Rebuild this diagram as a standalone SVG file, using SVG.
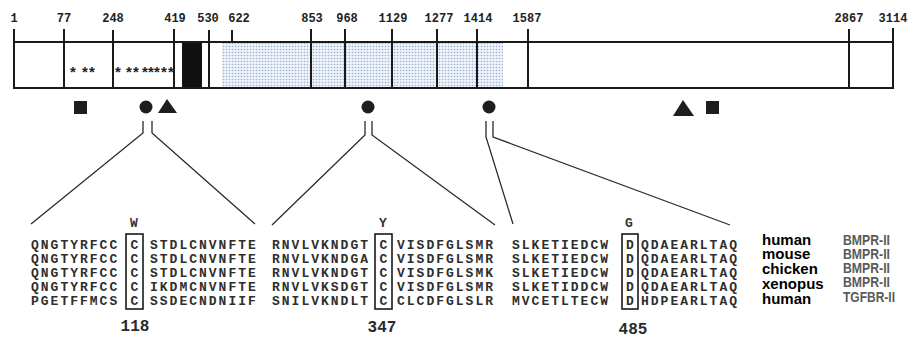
<svg xmlns="http://www.w3.org/2000/svg" width="909" height="339" viewBox="0 0 909 339">
  <defs>
    <pattern id="dots" width="3" height="3" patternUnits="userSpaceOnUse">
      <rect width="3" height="3" fill="#eef2f9"/>
      <circle cx="1.5" cy="1.5" r="0.8" fill="#9cb0d4"/>
    </pattern>
    <style>
      .bar { fill: none; stroke: #1a1a1a; stroke-width: 2; }
      .tick { stroke: #1a1a1a; stroke-width: 2; }
      .pos { font-family: "Liberation Mono", monospace; font-weight: bold; font-size: 12px; fill: #222; text-anchor: middle; }
      .star { font-family: "Liberation Sans", sans-serif; font-weight: bold; font-size: 15px; fill: #222; text-anchor: middle; }
      .mark { fill: #1e1e1e; }
      .conn { fill: none; stroke: #2a2a2a; stroke-width: 1.3; }
      .seq { font-family: "Liberation Mono", monospace; font-weight: bold; font-size: 13px; letter-spacing: 2px; fill: #2e2e2e; }
      .res { font-family: "Liberation Mono", monospace; font-weight: bold; font-size: 13px; fill: #2e2e2e; text-anchor: middle; }
      .sub { font-family: "Liberation Mono", monospace; font-weight: bold; font-size: 13px; fill: #333; text-anchor: middle; }
      .num { font-family: "Liberation Mono", monospace; font-weight: bold; font-size: 16px; fill: #2a2a2a; text-anchor: middle; }
      .box { fill: none; stroke: #1a1a1a; stroke-width: 1.6; }
      .sp { font-family: "Liberation Sans", Arial, sans-serif; font-weight: bold; font-size: 15px; fill: #000; }
      .gene { font-family: "Liberation Sans", Arial, sans-serif; font-weight: bold; font-size: 14px; fill: #5a5a5a; }
    </style>
  </defs>

  <!-- protein bar with domains -->
  <g id="bar">
    <rect x="222" y="43" width="281" height="45" fill="url(#dots)"/>
    <rect x="182" y="43" width="20" height="45" fill="#111"/>
    <rect class="bar" x="14" y="42" width="879" height="46"/>
    <line class="tick" x1="14" y1="29" x2="14" y2="88"/>
    <line class="tick" x1="64" y1="29" x2="64" y2="88"/>
    <line class="tick" x1="113" y1="30" x2="113" y2="88"/>
    <line class="tick" x1="174" y1="29" x2="174" y2="88"/>
    <line class="tick" x1="209" y1="30" x2="209" y2="88"/>
    <line class="tick" x1="232" y1="30" x2="232" y2="42"/>
    <line class="tick" x1="311" y1="29" x2="311" y2="88"/>
    <line class="tick" x1="345" y1="29" x2="345" y2="88"/>
    <line class="tick" x1="392" y1="29" x2="392" y2="88"/>
    <line class="tick" x1="437" y1="29" x2="437" y2="88"/>
    <line class="tick" x1="477" y1="29" x2="477" y2="88"/>
    <line class="tick" x1="528" y1="29" x2="528" y2="88"/>
    <line class="tick" x1="849" y1="29" x2="849" y2="88"/>
    <line class="tick" x1="893" y1="28" x2="893" y2="88"/>
  </g>

  <!-- residue positions -->
  <g id="positions">
    <text class="pos" x="14" y="22">1</text>
    <text class="pos" x="64" y="22">77</text>
    <text class="pos" x="113" y="22">248</text>
    <text class="pos" x="175" y="22">419</text>
    <text class="pos" x="208" y="22">530</text>
    <text class="pos" x="239" y="22">622</text>
    <text class="pos" x="312" y="22">853</text>
    <text class="pos" x="347" y="22">968</text>
    <text class="pos" x="393" y="22">1129</text>
    <text class="pos" x="439" y="22">1277</text>
    <text class="pos" x="478" y="22">1414</text>
    <text class="pos" x="527" y="22">1587</text>
    <text class="pos" x="849" y="22">2867</text>
    <text class="pos" x="893" y="22">3114</text>
  </g>

  <!-- cysteine stars -->
  <g id="stars">
    <text class="star" x="73" y="77">*</text>
    <text class="star" x="85" y="77">*</text>
    <text class="star" x="92" y="77">*</text>
    <text class="star" x="118" y="77">*</text>
    <text class="star" x="129" y="77">*</text>
    <text class="star" x="136" y="77">*</text>
    <text class="star" x="145" y="77">*</text>
    <text class="star" x="151" y="77">*</text>
    <text class="star" x="157" y="77">*</text>
    <text class="star" x="164" y="77">*</text>
    <text class="star" x="171" y="77">*</text>
  </g>

  <!-- mutation markers -->
  <g id="markers">
    <rect class="mark" x="74" y="101" width="13" height="13"/>
    <circle class="mark" cx="146" cy="107" r="6.5"/>
    <polygon class="mark" points="158,113 167,99 177,113"/>
    <circle class="mark" cx="368" cy="107" r="6.5"/>
    <circle class="mark" cx="489" cy="107" r="6.5"/>
    <polygon class="mark" points="673,116 683,100 694,116"/>
    <rect class="mark" x="706" y="101" width="13" height="13"/>
  </g>

  <!-- connectors from markers to alignments -->
  <g id="connectors">
    <polyline class="conn" points="143,121 143,133 31,224"/>
    <polyline class="conn" points="152,121 152,133 255,224"/>
    <polyline class="conn" points="365,121 365,135 272,225"/>
    <polyline class="conn" points="372,121 372,135 495,225"/>
    <polyline class="conn" points="486,121 486,137 513,224"/>
    <polyline class="conn" points="493,121 493,137 730,225"/>
  </g>

  <!-- alignment around residue 118 -->
  <g id="align118">
    <text class="sub" x="134" y="227">W</text>
    <rect class="box" x="126" y="234" width="17" height="75"/>
    <text class="seq" x="31" y="249">QNGTYRFCC</text>
    <text class="seq" x="31" y="263">QNGTYRFCC</text>
    <text class="seq" x="31" y="277">QNGTYRFCC</text>
    <text class="seq" x="31" y="291">QNGTYRFCC</text>
    <text class="seq" x="31" y="305">PGETFFMCS</text>
    <text class="res" x="134.5" y="249">C</text>
    <text class="res" x="134.5" y="263">C</text>
    <text class="res" x="134.5" y="277">C</text>
    <text class="res" x="134.5" y="291">C</text>
    <text class="res" x="134.5" y="305">C</text>
    <text class="seq" x="150" y="249">STDLCNVNFTE</text>
    <text class="seq" x="150" y="263">STDLCNVNFTE</text>
    <text class="seq" x="150" y="277">STDLCNVNFTE</text>
    <text class="seq" x="150" y="291">IKDMCNVNFTE</text>
    <text class="seq" x="150" y="305">SSDECNDNIIF</text>
    <text class="num" x="135" y="331">118</text>
  </g>

  <!-- alignment around residue 347 -->
  <g id="align347">
    <text class="sub" x="383" y="227">Y</text>
    <rect class="box" x="375" y="234" width="17" height="75"/>
    <text class="seq" x="272" y="249">RNVLVKNDGT</text>
    <text class="seq" x="272" y="263">RNVLVKNDGA</text>
    <text class="seq" x="272" y="277">RNVLVKNDGT</text>
    <text class="seq" x="272" y="291">RNVLVKSDGT</text>
    <text class="seq" x="272" y="305">SNILVKNDLT</text>
    <text class="res" x="383.5" y="249">C</text>
    <text class="res" x="383.5" y="263">C</text>
    <text class="res" x="383.5" y="277">C</text>
    <text class="res" x="383.5" y="291">C</text>
    <text class="res" x="383.5" y="305">C</text>
    <text class="seq" x="397" y="249">VISDFGLSMR</text>
    <text class="seq" x="397" y="263">VISDFGLSMR</text>
    <text class="seq" x="397" y="277">VISDFGLSMK</text>
    <text class="seq" x="397" y="291">VISDFGLSMR</text>
    <text class="seq" x="397" y="305">CLCDFGLSLR</text>
    <text class="num" x="382" y="332">347</text>
  </g>

  <!-- alignment around residue 485 -->
  <g id="align485">
    <text class="sub" x="629" y="227">G</text>
    <rect class="box" x="622" y="234" width="16" height="75"/>
    <text class="seq" x="512" y="249">SLKETIEDCW</text>
    <text class="seq" x="512" y="263">SLKETIEDCW</text>
    <text class="seq" x="512" y="277">SLKETIEDCW</text>
    <text class="seq" x="512" y="291">SLKETIDDCW</text>
    <text class="seq" x="512" y="305">MVCETLTECW</text>
    <text class="res" x="630" y="249">D</text>
    <text class="res" x="630" y="263">D</text>
    <text class="res" x="630" y="277">D</text>
    <text class="res" x="630" y="291">D</text>
    <text class="res" x="630" y="305">D</text>
    <text class="seq" x="641" y="249">QDAEARLTAQ</text>
    <text class="seq" x="641" y="263">QDAEARLTAQ</text>
    <text class="seq" x="641" y="277">QDAEARLTAQ</text>
    <text class="seq" x="641" y="291">QDAEARLTAQ</text>
    <text class="seq" x="641" y="305">HDPEARLTAQ</text>
    <text class="num" x="633" y="334">485</text>
  </g>

  <!-- species and receptor labels -->
  <g id="species">
    <text class="sp" x="762" y="245">human</text>
    <text class="sp" x="762" y="259">mouse</text>
    <text class="sp" x="762" y="274">chicken</text>
    <text class="sp" x="762" y="289">xenopus</text>
    <text class="sp" x="762" y="304">human</text>
  </g>
  <g id="receptors">
    <text class="gene" x="843" y="245" textLength="47" lengthAdjust="spacingAndGlyphs">BMPR-II</text>
    <text class="gene" x="843" y="259" textLength="47" lengthAdjust="spacingAndGlyphs">BMPR-II</text>
    <text class="gene" x="843" y="273" textLength="47" lengthAdjust="spacingAndGlyphs">BMPR-II</text>
    <text class="gene" x="843" y="287" textLength="47" lengthAdjust="spacingAndGlyphs">BMPR-II</text>
    <text class="gene" x="843" y="302" textLength="52" lengthAdjust="spacingAndGlyphs">TGFBR-II</text>
  </g>
</svg>
